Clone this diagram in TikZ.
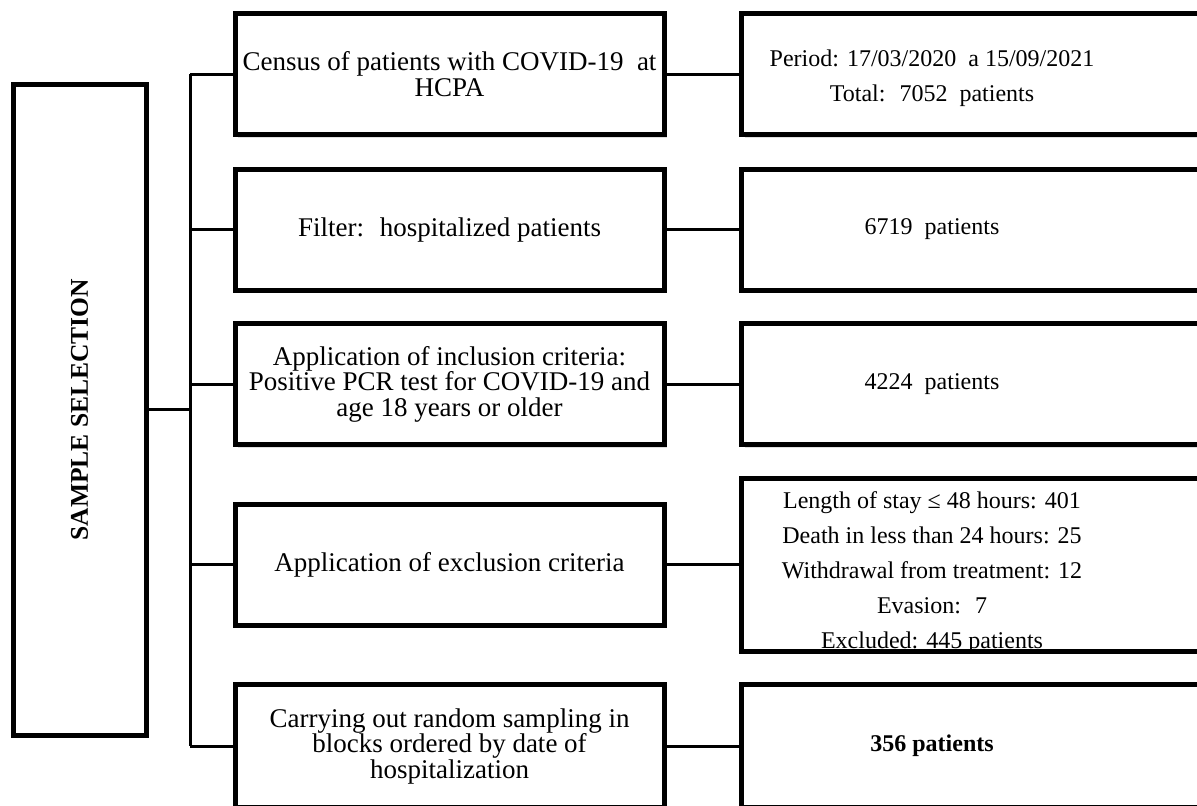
\documentclass[tikz,border=0pt]{standalone}
\usepackage{graphicx}
\usepackage{fontspec}
\setmainfont{Liberation Serif}
\usetikzlibrary{shadows}

\tikzset{
  box/.style={rectangle, draw, line width=2.5pt, fill=white, inner sep=0pt,
    drop shadow={shadow xshift=1.5pt, shadow yshift=-1.5pt, opacity=0.25}},
  mainbox/.style={box, minimum width=66.5pt, minimum height=325.25pt,
    font=\bfseries\fontsize{12.75}{14}\selectfont},
  midbox/.style={box, minimum width=214.5pt, minimum height=60.5pt, align=center,
    font=\fontsize{13.5}{12.75}\selectfont},
  resbox/.style={box, minimum width=260.25pt, minimum height=60.5pt},
  restext/.style={align=center, inner sep=0pt, font=\fontsize{12}{17.5}\selectfont},
  link/.style={line width=1.5pt}
}

\begin{document}
\begin{tikzpicture}[x=0.5pt, y=-0.5pt]
  \useasboundingbox (0,0) rectangle (1197,805);

  % left block
  \node[mainbox] (main) at (79.5,409.75) {\rotatebox{90}{SAMPLE SELECTION}};

  % steps
  \node[midbox] (m1) at (449.5,74) {Census of patients with COVID-19 \ at\\HCPA};
  \node[midbox] (m2) at (449.5,229.5) {Filter: \ hospitalized patients};
  \node[midbox] (m3) at (449.5,384) {Application of inclusion criteria:\\Positive PCR test for COVID-19 and\\age 18 years or older};
  \node[midbox] (m4) at (449.5,564.5) {Application of exclusion criteria};
  \node[midbox, minimum height=61.5pt] (m5) at (449.5,746) {Carrying out random sampling in\\blocks ordered by date of\\hospitalization};

  % results
  \node[resbox] (r1) at (1001.75,74) {};
  \node[resbox] (r2) at (1001.75,229.5) {};
  \node[resbox] (r3) at (1001.75,384) {};
  \node[resbox, minimum height=86.5pt] (r4) at (1001.75,564.5) {};
  \node[resbox, minimum height=61.5pt] (r5) at (1001.75,746) {};

  \node[restext] (t1) at (932,78) {Period: 17/03/2020 \ a 15/09/2021\\Total: \ 7052 \ patients};
  \node[restext] (t2) at (932,229.5) {6719 \ patients};
  \node[restext] (t3) at (932,384) {4224 \ patients};
  \node[restext] (t4) at (932,573) {Length of stay ≤ 48 hours: 401\\Death in less than 24 hours: 25\\Withdrawal from treatment: 12\\Evasion: \ 7\\Excluded: 445 patients};
  \node[restext] (t5) at (932,746) {\bfseries 356 patients};

  % connectors
  \coordinate (spine) at (190,409.75);
  \draw[link] (main.east) -- (spine);
  \draw[link] (spine |- m1.west) -- (spine |- m5.west);
  \foreach \i in {1,...,5} {
    \draw[link] (spine |- m\i.west) -- (m\i.west);
    \draw[link] (m\i.east) -- (r\i.west);
  }
\end{tikzpicture}
\end{document}
